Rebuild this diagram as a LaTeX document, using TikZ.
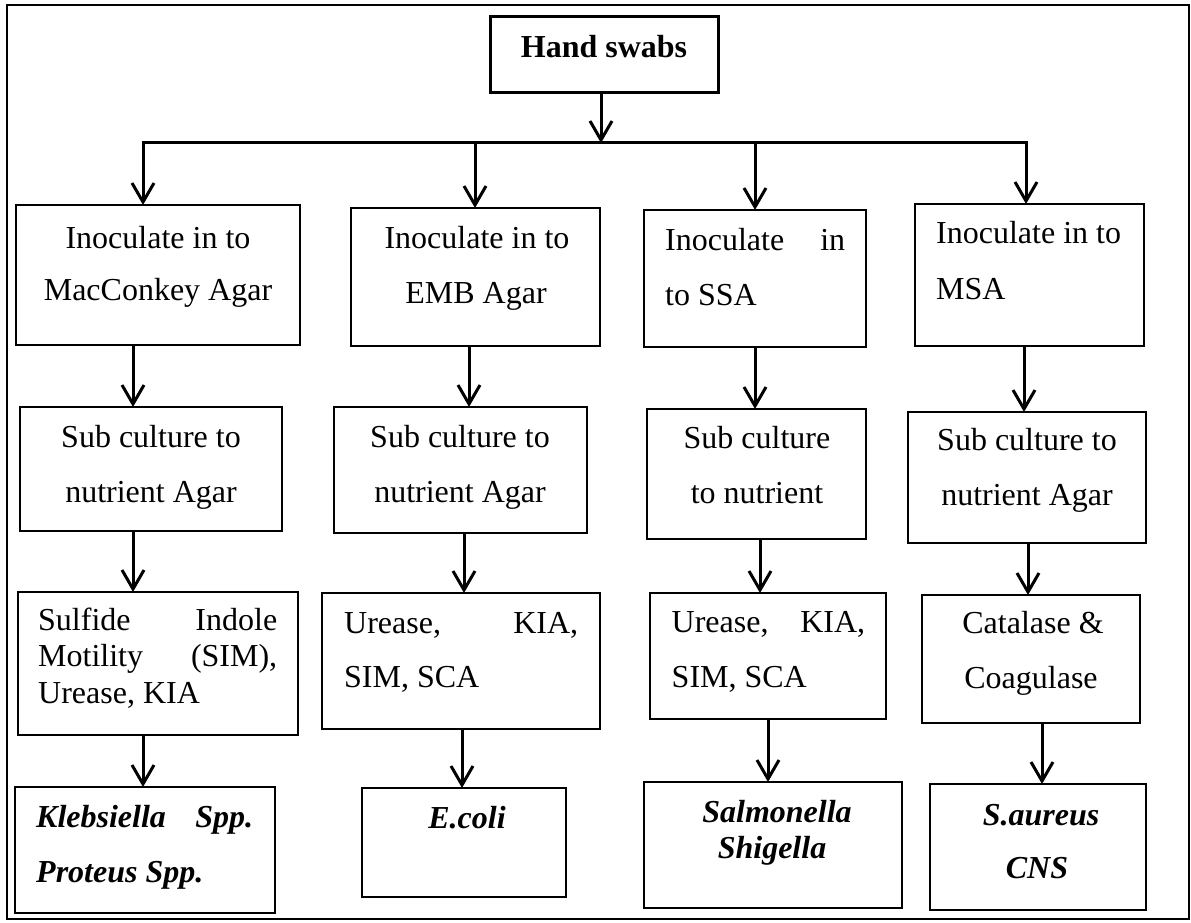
\documentclass[tikz,border=0pt]{standalone}
\usepackage{fontspec}
\setmainfont{Liberation Serif}
\usetikzlibrary{arrows.meta}
\tikzset{
  box/.style={draw, line width=2.6pt, anchor=north west, inner sep=0pt, outer sep=0pt},
  thinbox/.style={box, line width=1.7pt},
  midbox/.style={box, line width=2.1pt},
  ln/.style={line width=3pt},
  barb/.tip={Straight Barb[length=19pt,width=22pt]},
  arr/.style={ln, -barb},
  txt/.style={inner sep=0pt, anchor=base},
  txtl/.style={inner sep=0pt, anchor=base west},
  bi/.style={font=\fontsize{32}{38}\selectfont\bfseries\itshape},
}
\begin{document}
\begin{tikzpicture}[x=1pt,y=-1pt,font=\fontsize{32}{38}\selectfont]
\useasboundingbox (0,0) rectangle (1191,923);
% outer frame
\draw[line width=1.6pt] (7,5) rectangle (1189,919);

% boxes
\node[box, line width=3pt, minimum width=228pt, minimum height=76pt] (hs) at (490,17) {};
\node[box, minimum width=284pt, minimum height=140pt] (b1) at (16,205) {};
\node[box, minimum width=249pt, minimum height=138pt] (b2) at (351,208) {};
\node[box, minimum width=222pt, minimum height=137pt] (b3) at (644,210) {};
\node[box, minimum width=229pt, minimum height=142pt] (b4) at (915,204) {};

\node[thinbox, minimum width=262pt, minimum height=124pt] (s1) at (20,407) {};
\node[thinbox, minimum width=253pt, minimum height=126pt] (s2) at (334,407) {};
\node[thinbox, minimum width=219pt, minimum height=130pt] (s3) at (647,409) {};
\node[thinbox, minimum width=238pt, minimum height=131pt] (s4) at (908,412) {};

\node[midbox, minimum width=280pt, minimum height=143pt] (r1) at (18,592) {};
\node[midbox, minimum width=278pt, minimum height=136pt] (r2) at (322,593) {};
\node[midbox, minimum width=236pt, minimum height=126pt] (r3) at (650,593) {};
\node[midbox, minimum width=218pt, minimum height=128pt] (r4) at (922,595) {};

\node[box, minimum width=260pt, minimum height=126pt] (k) at (15,787) {};
\node[box, minimum width=204pt, minimum height=109pt] (e) at (362,788) {};
\node[box, minimum width=258pt, minimum height=126pt] (sal) at (644,782) {};
\node[box, minimum width=216pt, minimum height=126pt] (sa) at (930,784) {};

% texts
\node[txt, font=\fontsize{32}{38}\selectfont\bfseries] (ths) at (604,58) {Hand swabs};

\node[txt] (tb1a) at (158,248) {Inoculate in to};
\node[txt] (tb1b) at (158,300) {MacConkey Agar};
\node[txt] (tb2a) at (477,248) {Inoculate in to};
\node[txt] (tb2b) at (476,303) {EMB Agar};
\node[txtl] (tb3a) at (665,250) {\hbox to 180pt{Inoculate\hfill in}};
\node[txtl] (tb3b) at (665,305) {to SSA};
\node[txtl] (tb4a) at (936,243) {Inoculate in to};
\node[txtl] (tb4b) at (936,299) {MSA};

\node[txt] (ts1a) at (151,447) {Sub culture to};
\node[txt] (ts1b) at (151,502) {nutrient Agar};
\node[txt] (ts2a) at (460,447) {Sub culture to};
\node[txt] (ts2b) at (460,502) {nutrient Agar};
\node[txt] (ts3a) at (757,448) {Sub culture};
\node[txt] (ts3b) at (757,503) {to nutrient};
\node[txt] (ts4a) at (1027,450) {Sub culture to};
\node[txt] (ts4b) at (1027,505) {nutrient Agar};

\node[txtl] (tr1a) at (38,630) {\hbox to 239pt{Sulfide\hfill Indole}};
\node[txtl] (tr1b) at (38,666) {\hbox to 239pt{Motility\hfill (SIM),}};
\node[txtl] (tr1c) at (38,703) {Urease, KIA};
\node[txtl] (tr2a) at (344,633) {\hbox to 234pt{Urease,\hfill KIA,}};
\node[txtl] (tr2b) at (344,687) {SIM, SCA};
\node[txtl] (tr3a) at (671.5,632) {\hbox to 193.5pt{Urease,\hfill KIA,}};
\node[txtl] (tr3b) at (671.5,687) {SIM, SCA};
\node[txt] (tr4a) at (1033,633) {Catalase \&};
\node[txt] (tr4b) at (1031,688) {Coagulase};

\node[txtl, bi] (tka) at (36,827) {\hbox to 217pt{Klebsiella\hfill Spp.}};
\node[txtl, bi] (tkb) at (36,882) {Proteus Spp.};
\node[txt, bi] (tea) at (467,828) {E.coli};
\node[txt, bi] (tsala) at (777,822) {Salmonella};
\node[txt, bi] (tsalb) at (772,858) {Shigella};
\node[txt, bi] (tsaa) at (1041,825) {S.aureus};
\node[txt, bi] (tsab) at (1037,878) {CNS};

% connectors
\coordinate (barM) at (601,143);
\coordinate (barL) at (143,143);
\coordinate (barR) at (1026,143);
\coordinate (br2) at (475,143);
\coordinate (br3) at (755,143);
\draw[arr] (barM |- hs.south) -- (barM);
\draw[ln, barb-barb] (barL |- b1.north) -- (barL) -- (barR) -- (barR |- b4.north);
\draw[arr] (br2) -- (br2 |- b2.north);
\draw[arr] (br3) -- (br3 |- b3.north);

\draw[arr] (133,0 |- b1.south) -- (133,0 |- s1.north);
\draw[arr] (469,0 |- b2.south) -- (469,0 |- s2.north);
\draw[arr] (755,0 |- b3.south) -- (755,0 |- s3.north);
\draw[arr] (1024,0 |- b4.south) -- (1024,0 |- s4.north);

\draw[arr] (133,0 |- s1.south) -- (133,0 |- r1.north);
\draw[arr] (464,0 |- s2.south) -- (464,0 |- r2.north);
\draw[arr] (760,0 |- s3.south) -- (760,0 |- r3.north);
\draw[arr] (1028,0 |- s4.south) -- (1028,0 |- r4.north);

\draw[arr] (143,0 |- r1.south) -- (143,0 |- k.north);
\draw[arr] (462,0 |- r2.south) -- (462,0 |- e.north);
\draw[arr] (768,0 |- r3.south) -- (768,0 |- sal.north);
\draw[arr] (1042,0 |- r4.south) -- (1042,0 |- sa.north);
\end{tikzpicture}
\end{document}
